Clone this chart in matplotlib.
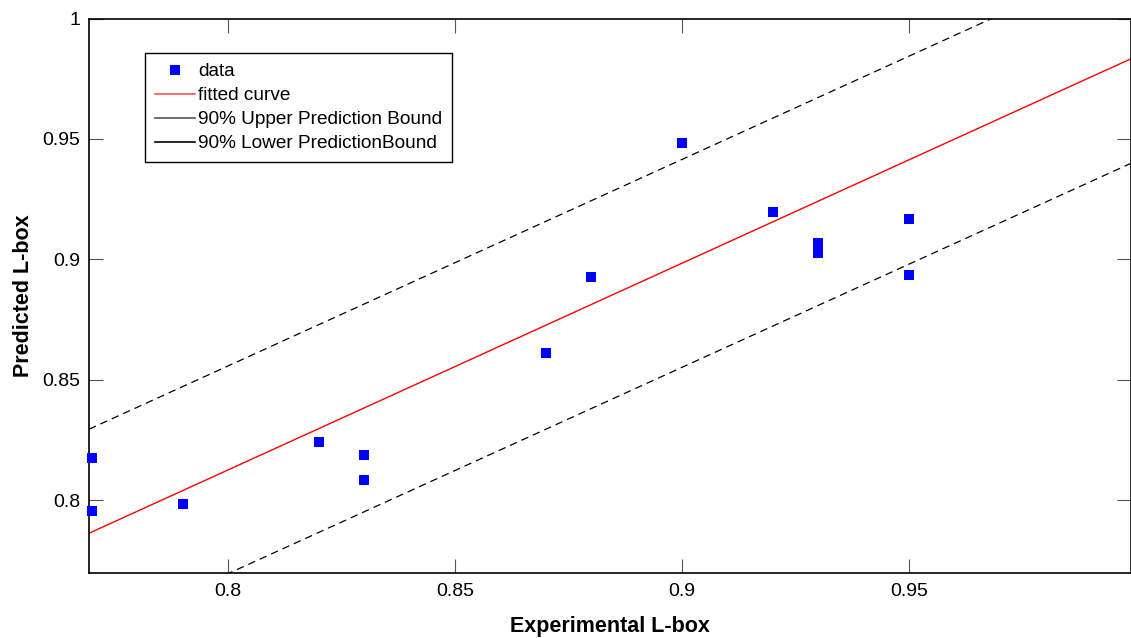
import matplotlib
matplotlib.use('Agg')
import matplotlib.pyplot as plt
from matplotlib.lines import Line2D

plt.rcParams['font.family'] = ['Liberation Sans', 'DejaVu Sans']

# measured vs predicted values
exp_lbox = [0.77, 0.77, 0.79, 0.82, 0.83, 0.83, 0.87, 0.88, 0.90, 0.92, 0.93, 0.93, 0.95, 0.95]
pred_lbox = [0.8174, 0.7955, 0.7985, 0.8241, 0.8187, 0.8083, 0.8613, 0.8928, 0.9485, 0.9198,
             0.9068, 0.9028, 0.9168, 0.8935]

# fitted line and 90% prediction bounds (end points read at the plot edges)
fit_x = [0.7694, 0.9988]
fit_y = [0.7863, 0.9832]
upper_y = [0.8295, 1.0262]
lower_y = [0.7433, 0.9398]

xticks = [0.8, 0.85, 0.9, 0.95]
xtick_labels = ['0.8', '0.85', '0.9', '0.95']
yticks = [0.8, 0.85, 0.9, 0.95, 1.0]
ytick_labels = ['0.8', '0.85', '0.9', '0.95', '1']

fig = plt.figure(figsize=(11.31, 6.38), dpi=100)
ax = fig.add_axes([89 / 1131, 1 - 573 / 638, 1041.5 / 1131, 554.5 / 638])

ax.plot(fit_x, upper_y, color='black', lw=0.9, dashes=(6, 4))
ax.plot(fit_x, lower_y, color='black', lw=0.9, dashes=(6, 4))
ax.plot(fit_x, fit_y, color='red', lw=1.0)
ax.plot(exp_lbox, pred_lbox, 's', color='blue', markersize=7.5, markeredgewidth=0, clip_on=False, zorder=5)

ax.set_xlim(0.7694, 0.9988)
ax.set_ylim(0.7698, 1.0)
ax.set_xticks(xticks)
ax.set_xticklabels(xtick_labels)
ax.set_yticks(yticks)
ax.set_yticklabels(ytick_labels)
ax.tick_params(direction='in', length=10, width=0.8, color='#555555', labelsize=14,
               top=True, right=True)
ax.tick_params(axis='y', pad=6.5)
ax.tick_params(axis='x', pad=7)
for s in ax.spines.values():
    s.set_linewidth(1.2)

ax.set_xlabel('Experimental L-box', fontsize=15.5, fontweight='bold', labelpad=12)
ax.set_ylabel('Predicted L-box', fontsize=15.5, fontweight='bold', labelpad=6)

handles = [
    Line2D([], [], ls='none', marker='s', color='blue', markersize=7.5, markeredgewidth=0),
    Line2D([], [], color='#ff5555', lw=1.2),
    Line2D([], [], color='#555555', lw=1.2),
    Line2D([], [], color='black', lw=1.2),
]
labels = ['data', 'fitted curve', '90% Upper Prediction Bound', '90% Lower PredictionBound']
leg = ax.legend(handles, labels, loc='upper left', bbox_to_anchor=(0.0538, 0.937),
                borderaxespad=0, fontsize=13.7, fancybox=False, framealpha=1,
                edgecolor='black', handlelength=2.1, handletextpad=0.2,
                labelspacing=0.35, borderpad=0.5)
leg.get_frame().set_linewidth(1.0)

fig.savefig('out.png', dpi=100)
